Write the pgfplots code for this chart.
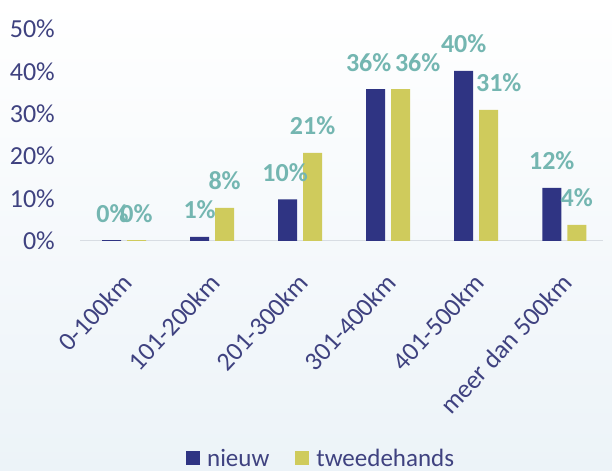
\documentclass[border=0pt]{standalone}
\usepackage{pgfplots}
\pgfplotsset{compat=1.18}
\usepackage{pgfplotstable}
\usepackage{fontspec}
\setmainfont{Carlito}

\definecolor{nieuwc}{HTML}{2F3483}
\definecolor{tweedec}{HTML}{CFCB5C}
\definecolor{labc}{HTML}{74B6B1}
\definecolor{tickc}{HTML}{3F4280}
\definecolor{basec}{HTML}{D8DDE3}

% x = category index, dx = label nudge in pt, lab = printed value
\pgfplotstableread{
x y dx lab
0 0.2 1 0
1 1.0 0 1
2 9.8 -2.5 10
3 35.8 -7 36
4 40.1 0 40
5 12.5 0 12
}\nieuw
\pgfplotstableread{
x y dx lab
0 0.2 0 0
1 7.8 0 8
2 20.8 0 21
3 35.8 17 36
4 30.9 10 31
5 3.8 0 4
}\tweedehands

\begin{document}
\begin{tikzpicture}[x=1pt,y=1pt]
\shade[top color=white, bottom color={rgb,255:red,236;green,243;blue,248}] (0,0) rectangle (612,471);
\begin{axis}[
  at={(80pt,230pt)}, anchor=south west,
  scale only axis, width=523pt, height=212pt,
  ybar=6pt, bar width=19pt,
  xmin=-0.5, xmax=5.44, ymin=0, ymax=50,
  axis x line=bottom, axis y line=left,
  x axis line style={draw=basec, line width=1pt, -},
  y axis line style={draw=none},
  major tick length=0pt,
  xtick=data,
  xticklabels={0-100km,101-200km,201-300km,301-400km,401-500km,meer dan 500km},
  ytick={0,10,...,50},
  yticklabel={\pgfmathprintnumber{\tick}\%},
  /pgf/number format/assume math mode=true,
  ticklabel style={font=\fontsize{26}{30}\selectfont, text=tickc},
  yticklabel style={inner sep=0pt, xshift=-25pt},
  xticklabel style={xshift=-4pt, yshift=-31pt, rotate=47, anchor=north east, inner sep=0pt},
  point meta=explicit symbolic,
  nodes near coords={\pgfplotspointmeta\%},
  visualization depends on={\thisrow{dx} \as \dx},
  nodes near coords style={font=\fontsize{26}{30}\bfseries\selectfont, text=labc,
    anchor=base, inner sep=0pt, yshift=18pt, xshift=\dx pt},
  legend style={at={(0.461,-1.025)}, anchor=center, draw=none, fill=none,
    font=\fontsize{25}{28}\selectfont, text=tickc, legend columns=2,
    /tikz/every odd column/.append style={column sep=5pt},
    /tikz/every even column/.append style={column sep=24pt}},
  legend image code/.code={\fill[#1] (0pt,-7pt) rectangle (14pt,7pt);},
  clip=false,
]
\addplot[fill=nieuwc, draw=none] table[x=x, y=y, meta=lab] {\nieuw};
\addplot[fill=tweedec, draw=none] table[x=x, y=y, meta=lab] {\tweedehands};
\legend{nieuw, tweedehands}
\end{axis}
\end{tikzpicture}
\end{document}
